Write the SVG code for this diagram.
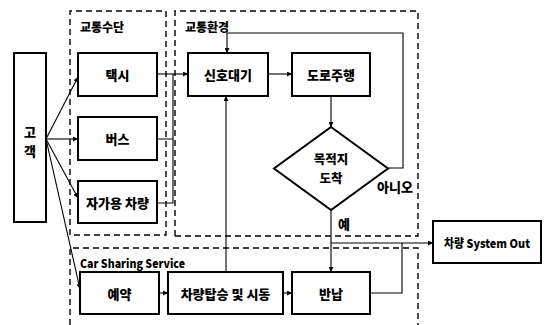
<svg xmlns="http://www.w3.org/2000/svg" width="544" height="325" viewBox="0 0 544 325">
<defs>
<marker id="ah" viewBox="0 0 10 10" refX="10" refY="5" markerWidth="5" markerHeight="5" orient="auto" markerUnits="userSpaceOnUse">
<path d="M0,0 L10,5 L0,10 z" fill="#000"/>
</marker>
<style>
.box{fill:#fff;stroke:#000;stroke-width:2}
.dash{fill:none;stroke:#000;stroke-width:1.4;stroke-dasharray:6,4}
.c{fill:none;stroke:#000;stroke-width:1.1}
.t{font-family:"Noto Sans CJK KR","Liberation Sans",sans-serif;font-weight:900;font-size:13px;fill:#000;text-anchor:middle;dominant-baseline:central}
.h{font-family:"Noto Sans CJK KR","Liberation Sans",sans-serif;font-weight:900;font-size:12px;fill:#000;dominant-baseline:central}
.d{font-size:12.5px}
.s{font-size:12px}
</style>
</defs>
<rect width="544" height="325" fill="#fff"/>
<g id="groups">
<path class="dash" d="M70,235 V11 H166 V235 H70"/>
<path class="dash" d="M175,236 V11 H418 V236 H175"/>
<path class="dash" d="M70,325 V248 H418 V325"/>
<text class="h" x="80" y="26">교통수단</text>
<text class="h" x="185" y="26">교통환경</text>
<text class="h" x="80" y="262" textLength="105" lengthAdjust="spacingAndGlyphs">Car Sharing Service</text>
</g>
<g id="connectors">
<path class="c" d="M46,139 L78,77" marker-end="url(#ah)"/>
<path class="c" d="M46,139 L78,139" marker-end="url(#ah)"/>
<path class="c" d="M46,139 L78,198" marker-end="url(#ah)"/>
<path class="c" d="M46,139 L80,289" marker-end="url(#ah)"/>
<path class="c" d="M157,74 H188" marker-end="url(#ah)"/>
<path class="c" d="M157,139 H173 V74"/>
<path class="c" d="M157,203 H173 V139"/>
<path class="c" d="M268,74 H292" marker-end="url(#ah)"/>
<path class="c" d="M331,96 V127" marker-end="url(#ah)"/>
<path class="c" d="M388,168 H403 V33 H227 V53" marker-end="url(#ah)"/>
<path class="c" d="M331,210 V272" marker-end="url(#ah)"/>
<path class="c" d="M331,243 H433" marker-end="url(#ah)"/>
<path class="c" d="M370,293 H402 V243"/>
<path class="c" d="M226,272 V96" marker-end="url(#ah)"/>
<path class="c" d="M159,293 H168" marker-end="url(#ah)"/>
<path class="c" d="M283,293 H292" marker-end="url(#ah)"/>
<text class="t" x="395" y="186">아니오</text>
<text class="t" x="344" y="223">예</text>
</g>
<g id="customer">
<rect class="box" x="14" y="53" width="32" height="169"/>
<text class="t" x="30" y="131">고</text>
<text class="t" x="30" y="150">객</text>
</g>
<g id="taxi">
<rect class="box" x="78" y="53" width="79" height="43"/>
<text class="t" x="117.5" y="74.5">택시</text>
</g>
<g id="bus">
<rect class="box" x="78" y="117" width="79" height="43"/>
<text class="t" x="117.5" y="138.5">버스</text>
</g>
<g id="car">
<rect class="box" x="78" y="181" width="79" height="42"/>
<text class="t" x="117.5" y="202">자가용 차량</text>
</g>
<g id="signal">
<rect class="box" x="188" y="53" width="80" height="43"/>
<text class="t" x="228" y="74.5">신호대기</text>
</g>
<g id="drive">
<rect class="box" x="292" y="53" width="78" height="43"/>
<text class="t" x="331" y="74.5">도로주행</text>
</g>
<g id="arrive">
<path class="box" d="M331,127 L388,168.5 L331,210 L274,168.5 z"/>
<text class="t d" x="331" y="158.5">목적지</text>
<text class="t d" x="331" y="177.5">도착</text>
</g>
<g id="systemout">
<rect class="box" x="433" y="221" width="108" height="42"/>
<text class="t s" x="487" y="242" textLength="86" lengthAdjust="spacingAndGlyphs">차량 System Out</text>
</g>
<g id="reserve">
<rect class="box" x="80" y="272" width="79" height="42"/>
<text class="t" x="119.5" y="293">예약</text>
</g>
<g id="board">
<rect class="box" x="168" y="272" width="115" height="42"/>
<text class="t" x="225.5" y="293">차량탑승 및 시동</text>
</g>
<g id="return">
<rect class="box" x="292" y="272" width="78" height="42"/>
<text class="t" x="331" y="293">반납</text>
</g>
</svg>
